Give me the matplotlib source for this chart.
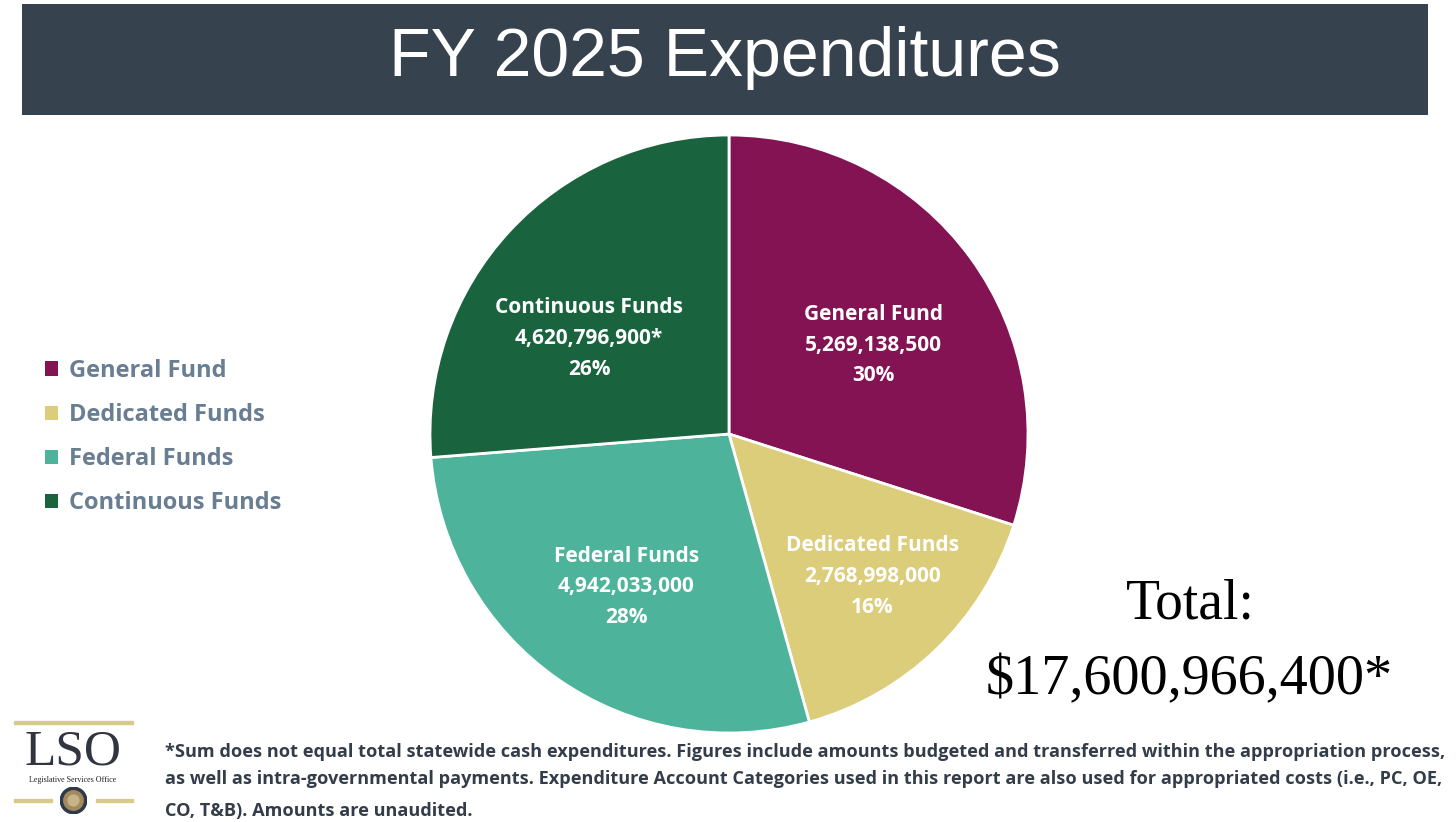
import matplotlib
matplotlib.use("Agg")
import matplotlib.pyplot as plt
import numpy as np
from matplotlib.patches import Rectangle, Circle

# data
funds = ["General Fund", "Dedicated Funds", "Federal Funds", "Continuous Funds"]
amounts = [5269138500, 2768998000, 4942033000, 4620796900]
amount_labels = ["5,269,138,500", "2,768,998,000", "4,942,033,000", "4,620,796,900*"]
pct_labels = ["30%", "16%", "28%", "26%"]
colors = ["#831352", "#dccd7b", "#4db49b", "#1a633f"]
# where each wedge label sits: fraction of radius, degrees off the wedge middle
label_dist = [0.572, 0.669, 0.607, 0.572]
label_shift = [-3.6, 1.9, 0.5, 7.6]
total_label = "$17,600,966,400*"

W, H = 1456, 822
fig = plt.figure(figsize=(W / 100, H / 100), dpi=100)
fig.patch.set_facecolor("white")

def px(x, y):
    return x / W, 1 - y / H

# title bar
bar = fig.add_axes([22 / W, 1 - 115 / H, (1428 - 22) / W, (115 - 4) / H])
bar.set_facecolor("#37424f")
bar.set_xticks([]); bar.set_yticks([])
for s in bar.spines.values():
    s.set_visible(False)
fig.text(*px(725, 58), "FY 2025 Expenditures", ha="center", va="center",
         color="white", fontsize=49, family="Liberation Sans")

# pie
cx, cy, r = 729, 434, 299
ax = fig.add_axes([(cx - r) / W, 1 - (cy + r) / H, 2 * r / W, 2 * r / H])
wedges, _ = ax.pie(amounts, colors=colors, startangle=90, counterclock=False,
                   wedgeprops=dict(edgecolor="white", linewidth=2))
ax.set_xlim(-1, 1); ax.set_ylim(-1, 1)
ax.set_aspect("equal")
for w, name, amt, pct, d, sh in zip(wedges, funds, amount_labels, pct_labels,
                                    label_dist, label_shift):
    mid = np.deg2rad((w.theta1 + w.theta2) / 2 + sh)
    ax.text(d * np.cos(mid), d * np.sin(mid) - 0.01, f"{name}\n{amt}\n{pct}",
            ha="center", va="center", color="white", fontsize=15,
            fontweight="bold", family="Open Sans", linespacing=1.6)

# legend
leg = fig.legend(wedges, funds, loc="center left",
                 bbox_to_anchor=px(24, 437), frameon=False,
                 handlelength=0.55, handleheight=0.55, handletextpad=0.45,
                 labelspacing=0.85, prop=dict(family="Open Sans", weight="bold", size=17))
for t in leg.get_texts():
    t.set_color("#697d93")
for h in leg.legend_handles:
    h.set_edgecolor("none")

# total
fig.text(*px(1190, 604), "Total:", ha="center", va="center",
         fontsize=40, family="Liberation Serif", color="black")
fig.text(*px(1189, 680), total_label, ha="center", va="center",
         fontsize=40.5, family="Liberation Serif", color="black")

# footnote
foot = ["*Sum does not equal total statewide cash expenditures. Figures include amounts budgeted and transferred within the appropriation process,",
        "as well as intra-governmental payments. Expenditure Account Categories used in this report are also used for appropriated costs (i.e., PC, OE,",
        "CO, T&B). Amounts are unaudited."]
for line, y in zip(foot, [752, 779, 811]):
    fig.text(*px(165, y), line, ha="left", va="center", fontsize=13.1,
             fontweight="bold", family="Open Sans", color="#333d49")

# logo
gold = "#d7cb8c"
fig.add_artist(Rectangle(px(14, 724), 119 / W, 3 / H, color=gold, transform=fig.transFigure))
fig.add_artist(Rectangle(px(14, 802), 38 / W, 3 / H, color=gold, transform=fig.transFigure))
fig.add_artist(Rectangle(px(96, 802), 37 / W, 3 / H, color=gold, transform=fig.transFigure))
fig.text(*px(73, 752), "LSO", ha="center", va="center", fontsize=37,
         family="Liberation Serif", color="#2f3640")
fig.text(*px(73, 780), "Legislative Services Office", ha="center", va="center",
         fontsize=5.8, family="Liberation Serif", color="#222222")
ax_seal = fig.add_axes([60 / W, 1 - 814 / H, 27 / W, 27 / H])
ax_seal.axis("off")
ax_seal.set_xlim(-1, 1); ax_seal.set_ylim(-1, 1); ax_seal.set_aspect("equal")
ax_seal.add_patch(Circle((0, 0), 0.98, color="#2e3a4a"))
ax_seal.add_patch(Circle((0, 0), 0.72, color="#a48a5c"))
ax_seal.add_patch(Circle((0, 0), 0.4, color="#c7b48a"))

fig.savefig("out.png", dpi=100)
